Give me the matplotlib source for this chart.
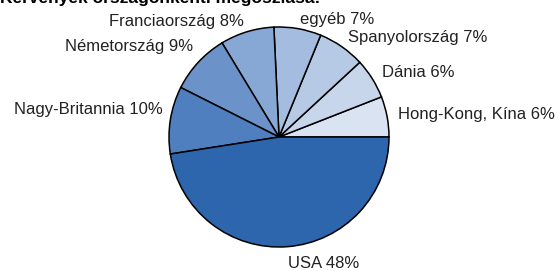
import matplotlib
matplotlib.use("Agg")
import matplotlib.pyplot as plt

plt.rcParams['font.family'] = ['Liberation Sans', 'DejaVu Sans']

# adatok (óramutatóval ellentétesen, 0 foktól)
countries = ['Hong-Kong, Kína', 'Dánia', 'Spanyolország', 'egyéb',
             'Franciaország', 'Németország', 'Nagy-Britannia', 'USA']
shares = [6, 6, 7, 7, 8, 9, 10, 48]
colors = ['#dae3f1', '#c8d6eb', '#b6c9e5', '#a3bcdf',
          '#87a8d4', '#6b93c9', '#4f7fbe', '#2e66ae']

labels = [c + ' ' + str(s) + '%' for c, s in zip(countries, shares)]

W, H = 560, 271
fig = plt.figure(figsize=(W / 100, H / 100), dpi=100)
cx, cy, r = 279, 137, 110
ax = fig.add_axes([(cx - r) / W, (H - cy - r) / H, 2 * r / W, 2 * r / H])

wedges, texts = ax.pie(shares, labels=labels, colors=colors, startangle=0,
                       counterclock=True, labeldistance=1.1,
                       wedgeprops=dict(edgecolor='black', linewidth=1.1),
                       textprops=dict(fontsize=12, color='#222222'))
# a bal oldali címkék kicsit feljebb ülnek
for t in texts[5:7]:
    x, y = t.get_position()
    t.set_position((x + 0.03, y + 0.08))
x, y = texts[7].get_position()
texts[7].set_position((x, y - 0.05))
x, y = texts[3].get_position()
texts[3].set_position((x, y - 0.02))
ax.set_xlim(-1, 1)
ax.set_ylim(-1, 1)
ax.set_aspect('equal')
ax.axis('off')

fig.text(0.0, 1 - 3 / H, 'Kérvények országonkénti megoszlása:',
         fontsize=12.5, fontweight='bold', ha='left', va='baseline')

fig.savefig('out.png', dpi=100)
